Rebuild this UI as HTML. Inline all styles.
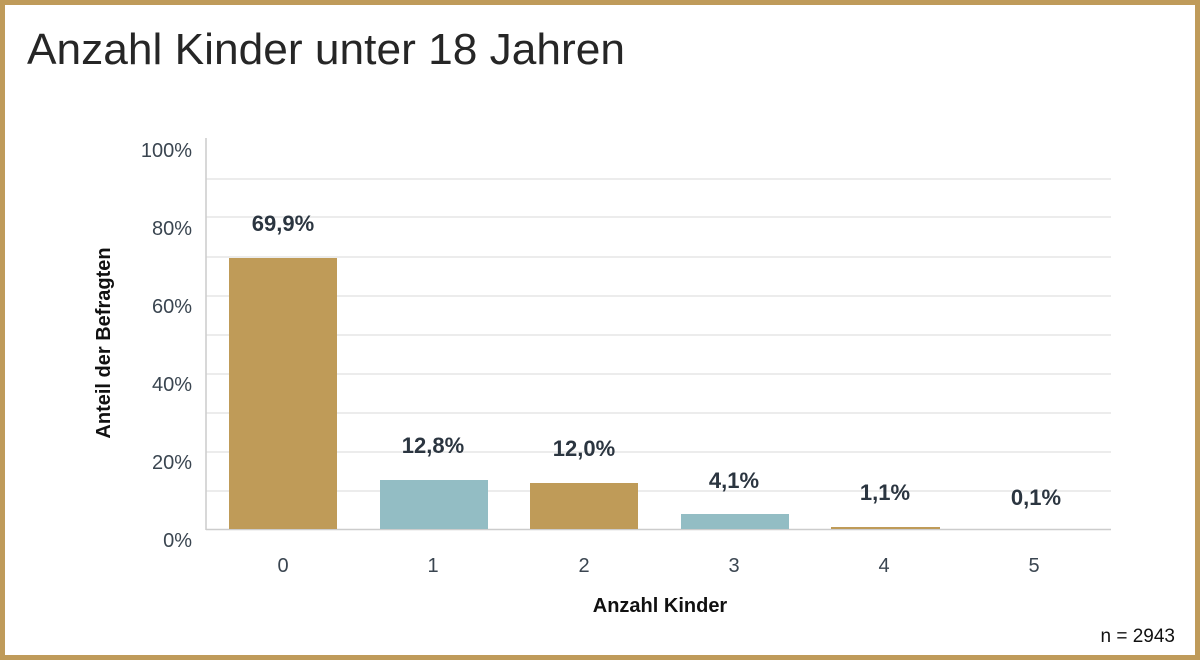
<!DOCTYPE html>
<html>
<head>
<meta charset="utf-8">
<style>
  html, body { margin: 0; padding: 0; background: #fff; }
  .wrap { width: 1200px; height: 660px; position: relative; overflow: hidden; }
  svg { display: block; }
</style>
</head>
<body>
<div class="wrap">
<svg width="1200" height="660" viewBox="0 0 1200 660" xmlns="http://www.w3.org/2000/svg">
  <rect x="0" y="0" width="1200" height="660" fill="#ffffff"/>
  <rect x="2.5" y="2.5" width="1195" height="655" fill="none" stroke="#BF9B5A" stroke-width="5"/>

  <text x="27" y="64" font-family="Liberation Sans, Arial, sans-serif" font-size="44" fill="#262626" textLength="598" lengthAdjust="spacingAndGlyphs">Anzahl Kinder unter 18 Jahren</text>

  <!-- gridlines -->
  <g stroke="#E6E6E6" stroke-width="1.5">
    <line x1="206" y1="179" x2="1111" y2="179"/>
    <line x1="206" y1="217" x2="1111" y2="217"/>
    <line x1="206" y1="257" x2="1111" y2="257"/>
    <line x1="206" y1="296" x2="1111" y2="296"/>
    <line x1="206" y1="335" x2="1111" y2="335"/>
    <line x1="206" y1="374" x2="1111" y2="374"/>
    <line x1="206" y1="413" x2="1111" y2="413"/>
    <line x1="206" y1="452" x2="1111" y2="452"/>
    <line x1="206" y1="491" x2="1111" y2="491"/>
  </g>
  <!-- axes -->
  <line x1="206" y1="138" x2="206" y2="530" stroke="#CCCCCC" stroke-width="1.5"/>
  <line x1="206" y1="529.5" x2="1111" y2="529.5" stroke="#CCCCCC" stroke-width="1.5"/>

  <!-- bars -->
  <rect x="229" y="258" width="108" height="271" fill="#BF9B58"/>
  <rect x="380" y="480" width="108" height="49" fill="#93BDC4"/>
  <rect x="530" y="483" width="108" height="46" fill="#BF9B58"/>
  <rect x="681" y="514" width="108" height="15" fill="#93BDC4"/>
  <rect x="831" y="527" width="109" height="2" fill="#BF9B58"/>

  <!-- y tick labels -->
  <g font-family="Liberation Sans, Arial, sans-serif" font-size="20" fill="#3A4550" text-anchor="end">
    <text x="192" y="157">100%</text>
    <text x="192" y="235">80%</text>
    <text x="192" y="313">60%</text>
    <text x="192" y="391">40%</text>
    <text x="192" y="469">20%</text>
    <text x="192" y="547">0%</text>
  </g>

  <!-- x tick labels -->
  <g font-family="Liberation Sans, Arial, sans-serif" font-size="20" fill="#3A4550" text-anchor="middle">
    <text x="283" y="572">0</text>
    <text x="433" y="572">1</text>
    <text x="584" y="572">2</text>
    <text x="734" y="572">3</text>
    <text x="884" y="572">4</text>
    <text x="1034" y="572">5</text>
  </g>

  <!-- value labels -->
  <g font-family="Liberation Sans, Arial, sans-serif" font-size="22" font-weight="bold" fill="#2B3540" text-anchor="middle">
    <text x="283" y="231">69,9%</text>
    <text x="433" y="453">12,8%</text>
    <text x="584" y="456">12,0%</text>
    <text x="734" y="488">4,1%</text>
    <text x="885" y="500">1,1%</text>
    <text x="1036" y="505">0,1%</text>
  </g>

  <!-- axis titles -->
  <text x="660" y="612" font-family="Liberation Sans, Arial, sans-serif" font-size="20" font-weight="bold" fill="#111" text-anchor="middle">Anzahl Kinder</text>
  <text transform="translate(110,343) rotate(-90)" font-family="Liberation Sans, Arial, sans-serif" font-size="20" font-weight="bold" fill="#111" text-anchor="middle">Anteil der Befragten</text>

  <text x="1175" y="642" font-family="Liberation Sans, Arial, sans-serif" font-size="19" fill="#111" text-anchor="end">n = 2943</text>
</svg>
</div>
</body>
</html>
